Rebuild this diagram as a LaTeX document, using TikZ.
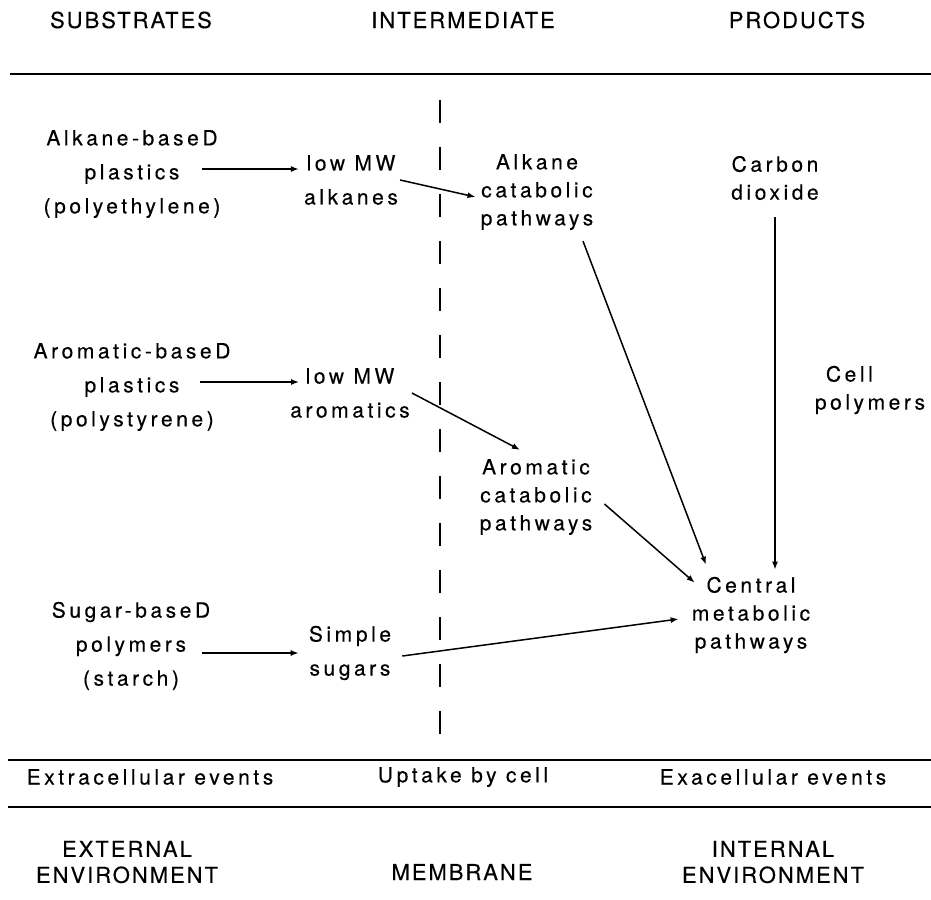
\documentclass[tikz,border=0pt]{standalone}
\usepackage{fontspec}
\setmainfont{TeX Gyre Heros}[LetterSpace=17,FakeBold=0.3]
\newfontfamily\headfont{TeX Gyre Heros}[LetterSpace=9,FakeBold=0.3]
\usetikzlibrary{arrows.meta,calc}

\begin{document}
\begin{tikzpicture}[x=1pt,y=-1pt,>={Latex[length=8pt,width=6pt]},
 lbl/.style={align=center,inner sep=2pt,font=\fontsize{21}{28}\selectfont},
 lblw/.style={lbl,font=\fontsize{21}{34}\selectfont},
 lblb/.style={lbl,font=\headfont\fontsize{22}{26}\selectfont},
 hd/.style={lbl,font=\headfont\fontsize{22}{26}\selectfont},
 arr/.style={->,line width=1.5pt},
 rule/.style={line width=2pt},
 membr/.style={line width=2pt,dash pattern=on 23pt off 24pt}]
\useasboundingbox (0,0) rectangle (931,899);
% column heads
\node[hd] (hsub) at (131,20) {SUBSTRATES};
\node[hd] (hint) at (463,20) {INTERMEDIATE};
\node[hd] (hprod) at (797,20) {PRODUCTS};
\draw[rule] (10,74) -- (931,74);
% membrane
\draw[membr] (440,100) -- (440,734);
% substrates
\node[lblw] (alkp) at (132,174) {Alkane-baseD\\plastics\\(polyethylene)};
\node[lblw] (arop) at (132,387) {Aromatic-baseD\\plastics\\(polystyrene)};
\node[lblw] (sugp) at (131,646) {Sugar-baseD\\polymers\\(starch)};
% intermediates
\node[lblw] (lowalk) at (351,180) {low MW\\alkanes};
\node[lblw] (lowaro) at (350,393) {low MW\\aromatics};
\node[lblw] (simple) at (350,653) {Simple\\sugars};
% inside the cell
\node[lbl] (alkcat) at (537,192) {Alkane\\catabolic\\pathways};
\node[lbl] (arocat) at (536,497) {Aromatic\\catabolic\\pathways};
\node[lbl] (co2) at (775,178) {Carbon\\dioxide};
\node[lbl,align=left] (cellpol) at (870,390) {\hspace*{11pt}Cell\\polymers};
\node[lbl] (central) at (751,615) {Central\\metabolic\\pathways};
% arrows
\draw[arr] ($(alkp)+(70,-5)$) -- ($(lowalk.west)+(-3,-11)$);
\draw[arr] ($(arop)+(68,-5)$) -- ($(lowaro.west)+(11,-11)$);
\draw[arr] ($(sugp)+(71,7)$) -- ($(simple.west)+(-8,0)$);
\draw[arr] (lowalk.east) -- ($(alkcat.west)+(-3,5)$);
\draw[arr] (lowaro.east) -- ($(arocat.north)+(-16,-7)$);
\draw[arr] ($(simple.east)+(9,3)$) -- ($(central.west)+(-11,4)$);
\draw[arr] ($(alkcat.south)+(46,9)$) -- ($(central.north)+(-45,-10)$);
\draw[arr] ($(arocat.east)+(10,7)$) -- ($(central.north west)+(5,8)$);
\draw[arr] ($(co2.south)+(0,15)$) -- ($(co2.south |- central.north)+(0,-5)$);
% bottom strip
\draw[rule] (8,760) -- (931,760);
\draw[rule] (8,807) -- (931,807);
\node[lbl] (extev) at (150,777) {Extracellular events};
\node[lbl] (uptake) at (463,777) {Uptake by cell};
\node[lbl] (exaev) at (773,777) {Exacellular events};
\node[lblb] (extenv) at (127,862) {EXTERNAL\\ENVIRONMENT};
\node[lblb] (membrane) at (462,872) {MEMBRANE};
\node[lblb] (intenv) at (773,862) {INTERNAL\\ENVIRONMENT};
\end{tikzpicture}
\end{document}
